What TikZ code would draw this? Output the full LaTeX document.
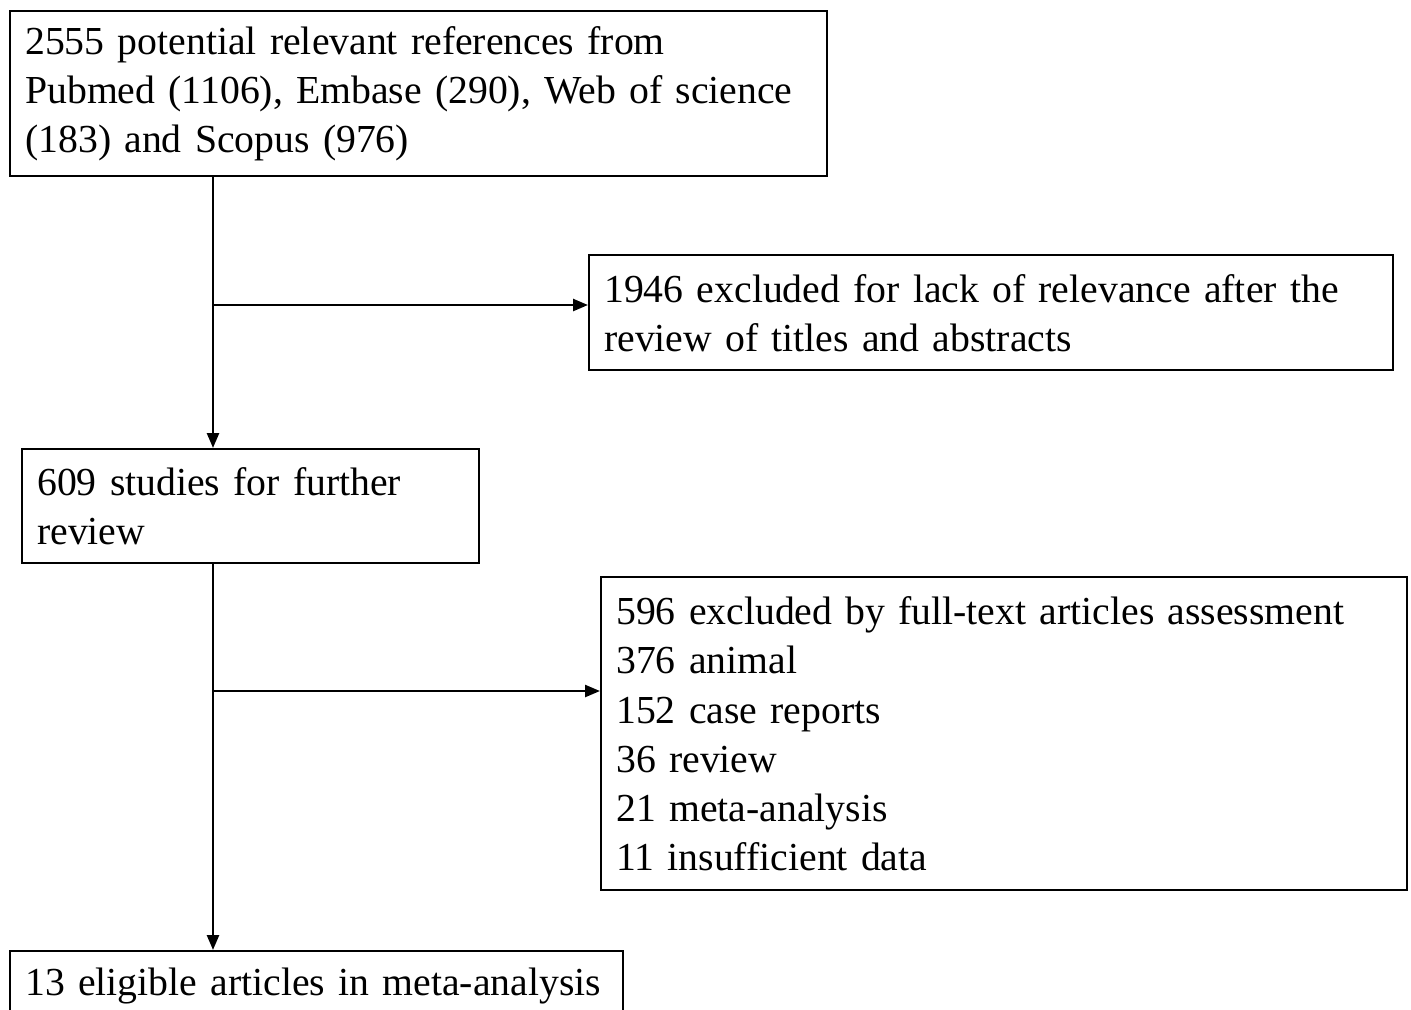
\documentclass[tikz,border=0pt]{standalone}
\usepackage{fontspec}
\setmainfont{Liberation Serif}
\usetikzlibrary{arrows.meta}

\newcommand\stagefont{\fontsize{11.3}{13.95}\selectfont\spaceskip=0.17em plus 0.02em minus 0.02em\relax}

\tikzset{
    stage/.style={draw, line width=0.7pt, rectangle, anchor=north west, align=left,
        inner xsep=0.15cm, inner ysep=0pt, font=\stagefont},
    flow/.style={line width=0.7pt, -{Triangle[length=0.15cm, width=0.12cm]}}
}

\begin{document}
\begin{tikzpicture}
    \useasboundingbox (0,0) rectangle (14.11,-10.10);
    \clip (0,0) rectangle (14.11,-10.10);

    % Boxes of the flow
    \node[stage, text width=7.87cm, minimum height=1.65cm] (refs) at (0.09,-0.10)
        {2555 potential relevant references from\\Pubmed (1106), Embase (290), Web of science\\(183) and Scopus (976)};
    \node[stage, text width=7.74cm, minimum height=1.15cm] (excl1) at (5.88,-2.54)
        {1946 excluded for lack of relevance after the\\review of titles and abstracts};
    \node[stage, text width=4.27cm, minimum height=1.14cm] (further) at (0.21,-4.48)
        {609 studies for further\\review};
    \node[stage, text width=7.76cm, minimum height=3.13cm] (excl2) at (6.00,-5.76)
        {596 excluded by full-text articles assessment\\376 animal\\152 case reports\\36 review\\21 meta-analysis\\11 insufficient data};
    \node[stage, text width=5.83cm, minimum height=0.70cm] (eligible) at (0.09,-9.50)
        {13 eligible articles in meta-analysis};

    % Branch points
    \coordinate (split1) at (2.13,-3.05);
    \coordinate (split2) at (2.13,-6.91);

    % Arrows
    \draw[flow] (refs.south -| split1) -- (further.north -| split1);
    \draw[flow] (split1) -- (excl1.west |- split1);
    \draw[flow] (further.south -| split2) -- (eligible.north -| split2);
    \draw[flow] (split2) -- (excl2.west |- split2);
\end{tikzpicture}
\end{document}
